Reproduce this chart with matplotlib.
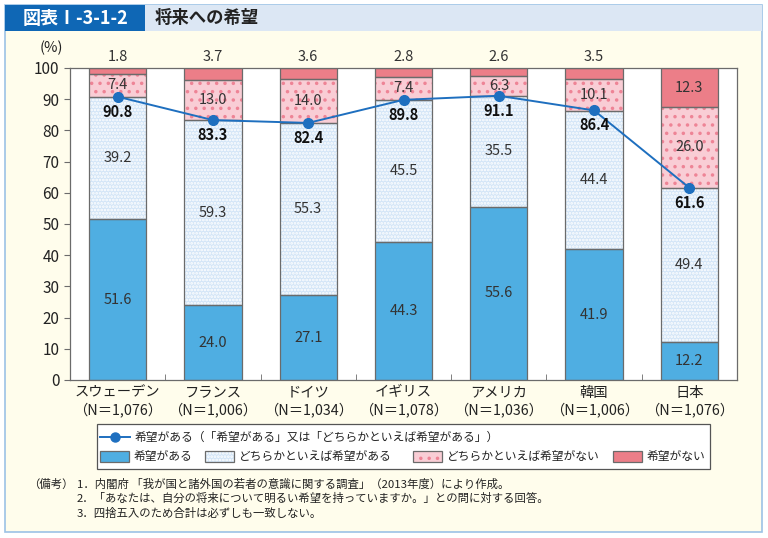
import numpy as np
import matplotlib
matplotlib.use('Agg')
import matplotlib.pyplot as plt
from matplotlib.patches import Rectangle
from matplotlib.lines import Line2D

plt.rcParams['font.family'] = ['Noto Sans CJK JP', 'DejaVu Sans']
plt.rcParams['hatch.linewidth'] = 1.3

# データ
countries = ['スウェーデン', 'フランス', 'ドイツ', 'イギリス', 'アメリカ', '韓国', '日本']
samples = ['（N＝1,076）', '（N＝1,006）', '（N＝1,034）', '（N＝1,078）',
           '（N＝1,036）', '（N＝1,006）', '（N＝1,076）']
hope = [51.6, 24.0, 27.1, 44.3, 55.6, 41.9, 12.2]
rather_hope = [39.2, 59.3, 55.3, 45.5, 35.5, 44.4, 49.4]
rather_no = [7.4, 13.0, 14.0, 7.4, 6.3, 10.1, 26.0]
no_hope = [1.8, 3.7, 3.6, 2.8, 2.6, 3.5, 12.3]
hope_total = [90.8, 83.3, 82.4, 89.8, 91.1, 86.4, 61.6]

series_labels = ['希望がある', 'どちらかといえば希望がある',
                 'どちらかといえば希望がない', '希望がない']
line_label = '希望がある（「希望がある」又は「どちらかといえば希望がある」）'

# 色
c_hope = '#4FAEE2'
c_rhope = '#D3E5F7'
c_rhope_h = 'white'
c_rno = '#F9CDD5'
c_rno_h = '#EE8496'
c_no = '#EC7E88'
c_line = '#1E6FBF'
styles = [(c_hope, None, None), (c_rhope, c_rhope_h, '.....'),
          (c_rno, c_rno_h, '..'), (c_no, None, None)]

fig = plt.figure(figsize=(7.68, 5.38), dpi=100)
W, H = 768, 538


def fx(px):
    return px / W


def fy(py):
    return 1 - py / H


def fig_rect(x0, y0, x1, y1, **kw):
    # ピクセル座標（上が0）で図に矩形を置く
    r = Rectangle((fx(x0), fy(y1)), fx(x1 - x0), (y1 - y0) / H,
                  transform=fig.transFigure, **kw)
    fig.patches.append(r)
    return r


# 背景パネル
fig_rect(5, 5, 762, 532, facecolor='#FFFDEC', edgecolor='#9CC2E5',
         linewidth=1.2, zorder=-3)
fig_rect(5, 5, 145, 31, facecolor='#0F67B5', edgecolor='none', zorder=-2)
fig_rect(145, 5, 762, 31, facecolor='#DCE7F4', edgecolor='none', zorder=-2)
fig.text(fx(23), fy(18), '図表Ⅰ-3-1-2', color='white', fontsize=13,
         fontweight='bold', va='center', ha='left')
fig.text(fx(155), fy(18), '将来への希望', color='#222222', fontsize=12.5,
         fontweight='bold', va='center', ha='left')

ax = fig.add_axes([fx(70), fy(380), fx(737 - 70), (380 - 68) / H])
ax.set_facecolor('white')

x = np.arange(len(countries))
width = 0.6
data = [hope, rather_hope, rather_no, no_hope]
bottom = np.zeros(len(countries))
for vals, (fc, hc, hatch) in zip(data, styles):
    vals = np.array(vals)
    if hatch:
        ax.bar(x, vals, width, bottom=bottom, color=fc, edgecolor=hc,
               hatch=hatch, linewidth=0, zorder=2)
    else:
        ax.bar(x, vals, width, bottom=bottom, color=fc, linewidth=0, zorder=2)
    ax.bar(x, vals, width, bottom=bottom, fill=False, edgecolor='#6B6B6B',
           linewidth=0.9, zorder=3)
    bottom += vals

# セグメントのラベル
b = np.zeros(len(countries))
for k, vals in enumerate(data):
    for i, v in enumerate(vals):
        if k == 3 and i < len(countries) - 1:
            ax.annotate(f'{v:.1f}', (x[i], 100), xytext=(0, 3),
                        textcoords='offset points', ha='center', va='bottom',
                        fontsize=10.5, color='#333333', annotation_clip=False)
        else:
            yc = b[i] + v / 2
            ax.text(x[i], yc, f'{v:.1f}', ha='center', va='center',
                    fontsize=10.5, color='#333333', zorder=4)
    b += np.array(vals)

# 折れ線
ax.plot(x, hope_total, '-o', color=c_line, linewidth=1.4, markersize=7, zorder=5)
for i, v in enumerate(hope_total):
    ax.annotate(f'{v:.1f}', (x[i], v), xytext=(0, -5),
                textcoords='offset points', ha='center', va='top',
                fontsize=10.5, fontweight='bold', color='#111111', zorder=6)

ax.set_xlim(-0.5, len(countries) - 0.5)
ax.set_ylim(0, 100)
ax.set_yticks(np.arange(0, 101, 10))
ax.set_xticks(x)
ax.set_xticklabels([f'{c}\n{s}' for c, s in zip(countries, samples)],
                   fontsize=10.3, linespacing=1.2)
ax.set_xticks(np.arange(0.5, len(countries) - 1, 1), minor=True)
ax.tick_params(axis='x', which='major', length=0, pad=4, colors='#222222')
ax.tick_params(axis='x', which='minor', length=4, direction='in',
               color='#6B6B6B')
ax.tick_params(axis='y', length=4, direction='out', labelsize=11,
               color='#6B6B6B', labelcolor='#222222')
for s in ax.spines.values():
    s.set_color('#6B6B6B')
    s.set_linewidth(0.9)
fig.text(fx(51), fy(48), '(%)', fontsize=10.5, ha='center', va='center',
         color='#222222')

# 凡例
fig_rect(97, 424, 710, 469, facecolor='white', edgecolor='#555555',
         linewidth=0.9, zorder=2)
fig.lines.append(Line2D([fx(100), fx(130)], [fy(437), fy(437)],
                        transform=fig.transFigure, color=c_line, linewidth=1.4,
                        zorder=3))
fig.lines.append(Line2D([fx(115)], [fy(437)], transform=fig.transFigure,
                        color=c_line, marker='o', markersize=6.5, zorder=3))
fig.text(fx(135), fy(437), line_label, fontsize=8.5, va='center', ha='left',
         color='#222222', zorder=4)
leg_x = [100, 205, 413, 613]
for px, lab, (fc, hc, hatch) in zip(leg_x, series_labels, styles):
    if hatch:
        fig_rect(px, 451, px + 29, 462, facecolor=fc, edgecolor=hc,
                 hatch=hatch, linewidth=0, zorder=3)
    else:
        fig_rect(px, 451, px + 29, 462, facecolor=fc, linewidth=0, zorder=3)
    fig_rect(px, 451, px + 29, 462, fill=False, edgecolor='#6B6B6B',
             linewidth=0.9, zorder=3)
    fig.text(fx(px + 34), fy(456.5), lab, fontsize=8.5, va='center',
             ha='left', color='#222222', zorder=4)

# 備考
notes = ['1．内閣府 「我が国と諸外国の若者の意識に関する調査」（2013年度）により作成。',
         '2．「あなたは、自分の将来について明るい希望を持っていますか。」との問に対する回答。',
         '3．四捨五入のため合計は必ずしも一致しない。']
fig.text(fx(28), fy(484), '（備考）', fontsize=8.2, va='center', ha='left',
         color='#222222')
for j, n in enumerate(notes):
    fig.text(fx(77), fy(484 + 14.5 * j), n, fontsize=8.2, va='center',
             ha='left', color='#222222')

fig.savefig('out.png', dpi=100)
